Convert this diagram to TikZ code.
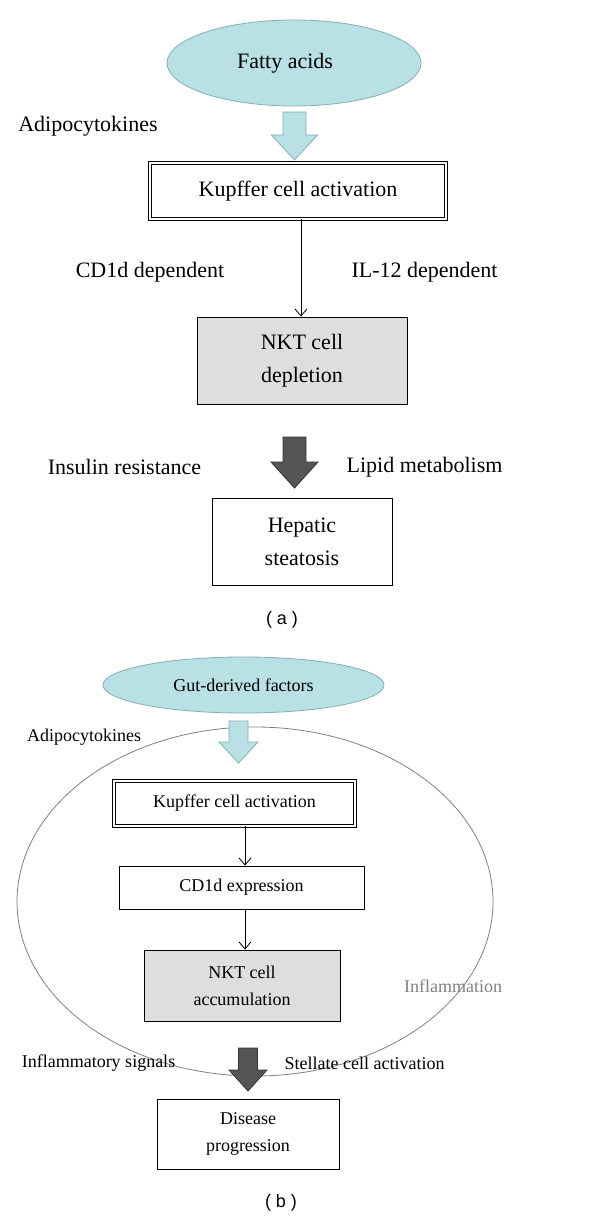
\documentclass[tikz,border=0pt]{standalone}
\usepackage{fontspec}
\setmainfont{Liberation Serif}
\newfontfamily\arialfont{Liberation Sans}
\usetikzlibrary{arrows.meta,shapes.geometric}
\definecolor{tealfill}{RGB}{185,224,228}
\definecolor{tealline}{RGB}{130,175,180}
\definecolor{grayfill}{RGB}{222,222,222}
\definecolor{darkarrow}{RGB}{85,85,85}
\definecolor{ringgray}{RGB}{128,128,128}
\newcommand{\fatarrow}[7]{%
  \draw[#1] ({#2-#6},#3) -- ({#2+#6},#3) -- ({#2+#6},#4) -- ({#2+#7},#4) -- (#2,#5) -- ({#2-#7},#4) -- ({#2-#6},#4) -- cycle;}
\begin{document}
\begin{tikzpicture}[x=1pt,y=-1pt,
  big/.style={font=\fontsize{22}{33}\selectfont},
  small/.style={font=\fontsize{18}{27}\selectfont},
  tealell/.style={ellipse, draw=tealline, fill=tealfill, line width=0.8pt, inner sep=0pt},
  plainbox/.style={rectangle, draw=black, line width=0.9pt, inner sep=0pt, align=center},
  dblbox/.style={rectangle, draw=black, double, double distance=2.4pt, line width=0.7pt, inner sep=0pt, align=center},
  graybox/.style={plainbox, fill=grayfill},
  thinarrow/.style={draw=black, line width=0.8pt, -{Straight Barb[length=7pt,width=12pt]}},
  lightfat/.style={draw=tealline, fill=tealfill, line width=0.8pt},
  darkfat/.style={draw=black!80, fill=darkarrow, line width=0.8pt},
  lbl/.style={inner sep=0pt, anchor=center},
  caption/.style={inner sep=0pt, font=\arialfont\fontsize{18}{22}\selectfont}
]
\useasboundingbox (0,0) rectangle (600,1220);

% ---------- (a) ----------
\node[tealell, big, minimum width=254, minimum height=86] (fatty) at (294,63) {\hspace*{-18pt}Fatty acids};
\node[lbl, big] (adipoA) at (88,126) {Adipocytokines};
\fatarrow{lightfat}{294.5}{112}{135}{160}{11.5}{23}
\node[dblbox, big, minimum width=296, minimum height=56] (kupA) at (298,191) {Kupffer cell activation};
\node[lbl, big] (cd1dA) at (150,272) {CD1d dependent};
\node[lbl, big] (il12A) at (424.5,272) {IL-12 dependent};
\node[graybox, big, minimum width=210, minimum height=87] (nktA) at (302,360.5) {NKT cell\\depletion};
\draw[thinarrow] ([xshift=3pt]kupA.south) -- ([xshift=-1pt]nktA.north);
\fatarrow{darkfat}{294.5}{437}{462}{488}{11.5}{23.5}
\node[lbl, big] (insA) at (124.5,467) {Insulin resistance};
\node[lbl, big] (lipA) at (424.5,467) {Lipid metabolism};
\node[plainbox, big, minimum width=180, minimum height=87] (hepA) at (302,541.5) {Hepatic\\steatosis};
\node[caption] (capA) at (282,620) {( a )};

% ---------- (b) ----------
\node[ellipse, draw=ringgray, line width=0.8pt, minimum width=476, minimum height=349, inner sep=0pt] (ring) at (255,901.5) {};
\node[tealell, small, minimum width=281, minimum height=56] (gut) at (243.5,685) {Gut-derived factors};
\node[lbl, small] (adipoB) at (84,737) {Adipocytokines};
\fatarrow{lightfat}{238.5}{721}{742}{763}{9.5}{19.5}
\node[dblbox, small, minimum width=241, minimum height=45] (kupB) at (234.5,803.5) {Kupffer cell activation};
\node[plainbox, small, minimum width=245, minimum height=43] (cd1dB) at (241.5,887.5) {CD1d expression};
\node[graybox, small, minimum width=196, minimum height=71] (nktB) at (242,985.5) {NKT cell\\accumulation};
\draw[thinarrow] ([xshift=10.5pt]kupB.south) -- ([xshift=3.5pt]cd1dB.north);
\draw[thinarrow] ([xshift=3.5pt]cd1dB.south) -- ([xshift=3pt]nktB.north);
\node[lbl, small, text=ringgray] (inflam) at (453,986) {Inflammation};
\node[lbl, small] (infsig) at (98.5,1063) {Inflammatory signals};
\node[lbl, small] (stell) at (364.5,1063) {Stellate cell activation};
\fatarrow{darkfat}{248}{1048}{1070}{1091}{9.5}{19}
\node[plainbox, small, minimum width=182, minimum height=70] (dis) at (248,1134) {Disease\\progression};
\node[caption] (capB) at (281,1203) {( b )};
\end{tikzpicture}
\end{document}
